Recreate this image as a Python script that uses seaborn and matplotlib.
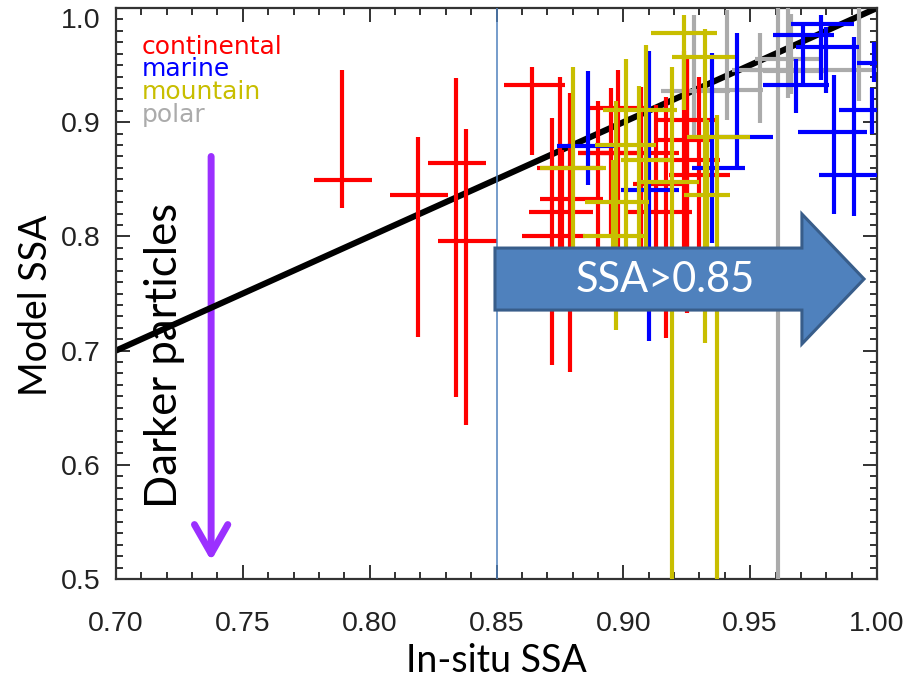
import matplotlib
matplotlib.use("Agg")
import matplotlib.pyplot as plt
from matplotlib.patches import Polygon
from matplotlib.ticker import MultipleLocator, FormatStrFormatter
import numpy as np
import pandas as pd
import seaborn as sns

# ---- data: in-situ SSA (x) and model SSA (y) with their ranges, per site type ----
continental_insitu = [0.789, 0.819, 0.834, 0.838, 0.864, 0.872, 0.879, 0.875, 0.876,
                      0.898, 0.907, 0.917, 0.924, 0.925, 0.925, 0.930, 0.890, 0.895,
                      0.913]
continental_insitu_lo = [0.778, 0.808, 0.823, 0.827, 0.853, 0.860, 0.866, 0.863, 0.867,
                         0.886, 0.891, 0.901, 0.912, 0.914, 0.912, 0.918, 0.882, 0.882,
                         0.904]
continental_insitu_hi = [0.801, 0.831, 0.846, 0.850, 0.877, 0.885, 0.892, 0.888, 0.892,
                         0.911, 0.922, 0.927, 0.935, 0.938, 0.936, 0.942, 0.898, 0.909,
                         0.926]
continental_model = [0.849, 0.836, 0.864, 0.796, 0.933, 0.800, 0.860, 0.821, 0.833,
                     0.912, 0.873, 0.821, 0.884, 0.867, 0.902, 0.854, 0.873, 0.873,
                     0.846]
continental_model_lo = [0.825, 0.712, 0.659, 0.635, 0.871, 0.687, 0.681, 0.750, 0.760,
                        0.770, 0.762, 0.711, 0.744, 0.733, 0.762, 0.779, 0.779, 0.800,
                        0.760]
continental_model_hi = [0.946, 0.887, 0.939, 0.894, 0.948, 0.904, 0.926, 0.940, 0.876,
                        0.946, 0.931, 0.922, 0.962, 0.955, 0.959, 0.940, 0.919, 0.930,
                        0.915]

marine_insitu = [0.886, 0.910, 0.935, 0.945, 0.968, 0.978, 0.980, 0.971, 0.983, 0.991,
                 0.998, 0.999]
marine_insitu_lo = [0.874, 0.899, 0.927, 0.932, 0.955, 0.966, 0.968, 0.959, 0.969, 0.977,
                    0.985, 0.992]
marine_insitu_hi = [0.898, 0.922, 0.948, 0.959, 0.981, 0.991, 0.993, 0.983, 0.996, 1.004,
                    1.011, 1.006]
marine_model = [0.879, 0.841, 0.860, 0.887, 0.933, 0.986, 0.966, 0.976, 0.891, 0.854,
                0.911, 0.952]
marine_model_lo = [0.845, 0.708, 0.794, 0.860, 0.908, 0.937, 0.926, 0.934, 0.820, 0.818,
                   0.890, 0.935]
marine_model_hi = [0.945, 0.962, 0.961, 0.978, 0.955, 0.994, 0.983, 0.985, 0.941, 0.975,
                   0.930, 0.970]

mountain_insitu = [0.880, 0.897, 0.906, 0.896, 0.924, 0.932, 0.937, 0.919, 0.909, 0.933,
                   0.901]
mountain_insitu_lo = [0.867, 0.885, 0.892, 0.884, 0.911, 0.919, 0.925, 0.907, 0.899, 0.924,
                      0.889]
mountain_insitu_hi = [0.893, 0.910, 0.921, 0.909, 0.937, 0.944, 0.950, 0.930, 0.919, 0.942,
                      0.913]
mountain_model = [0.860, 0.830, 0.911, 0.800, 0.978, 0.957, 0.887, 0.848, 0.867, 0.836,
                  0.880]
mountain_model_lo = [0.753, 0.718, 0.744, 0.744, 0.911, 0.707, 0.450, 0.450, 0.762, 0.744,
                     0.790]
mountain_model_hi = [0.948, 0.919, 0.932, 0.867, 0.994, 0.982, 0.906, 0.948, 0.968, 0.902,
                     0.955]

polar_insitu = [0.928, 0.941, 0.954, 0.961, 0.965, 0.966, 0.993]
polar_insitu_lo = [0.915, 0.930, 0.943, 0.950, 0.952, 0.955, 0.978]
polar_insitu_hi = [0.942, 0.955, 0.970, 0.978, 0.978, 0.979, 1.004]
polar_model = [0.927, 0.928, 0.946, 0.946, 0.955, 0.945, 0.946]
polar_model_lo = [0.884, 0.902, 0.899, 0.450, 0.921, 0.925, 0.919]
polar_model_hi = [0.994, 0.998, 0.978, 1.000, 1.000, 0.995, 1.000]

site_types = ["continental", "marine", "mountain", "polar"]
site_colors = ["#FF0000", "#0000FF", "#C8BE00", "#ABABAB"]

one_to_one = [0.70, 1.00]
ssa_threshold = 0.85

# ---- figure ----
sns.set_theme(style="ticks")
plt.rcParams["font.family"] = ["DejaVu Sans"]

fig = plt.figure(figsize=(9.07, 6.82), dpi=100)
ax = fig.add_axes([116 / 907, 103 / 682, 761 / 907, 571 / 682])

groups = {
    "continental": (continental_insitu, continental_insitu_lo, continental_insitu_hi,
                    continental_model, continental_model_lo, continental_model_hi),
    "marine": (marine_insitu, marine_insitu_lo, marine_insitu_hi,
               marine_model, marine_model_lo, marine_model_hi),
    "mountain": (mountain_insitu, mountain_insitu_lo, mountain_insitu_hi,
                 mountain_model, mountain_model_lo, mountain_model_hi),
    "polar": (polar_insitu, polar_insitu_lo, polar_insitu_hi,
              polar_model, polar_model_lo, polar_model_hi),
}

# 1:1 line
diag = pd.DataFrame({"insitu": one_to_one, "model": one_to_one})
sns.lineplot(data=diag, x="insitu", y="model", color="black", lw=4.4, ax=ax,
             zorder=2, solid_capstyle="butt")

draw_order = ["polar", "continental", "marine", "mountain"]
for name in draw_order:
    color = site_colors[site_types.index(name)]
    x, xlo, xhi, y, ylo, yhi = (np.asarray(v, dtype=float) for v in groups[name])
    ax.errorbar(x, y, xerr=[x - xlo, xhi - x], yerr=[y - ylo, yhi - y],
                fmt="none", ecolor=color, elinewidth=3.0, capsize=0, zorder=3)

ax.axvline(ssa_threshold, color="#4F81BD", lw=1.1, zorder=4)

ax.set_xlim(0.70, 1.00)
ax.set_ylim(0.50, 1.00)

ax.xaxis.set_major_locator(MultipleLocator(0.05))
ax.xaxis.set_minor_locator(MultipleLocator(0.01))
ax.yaxis.set_major_locator(MultipleLocator(0.1))
ax.yaxis.set_minor_locator(MultipleLocator(0.01))
ax.xaxis.set_major_formatter(FormatStrFormatter("%.2f"))
ax.yaxis.set_major_formatter(FormatStrFormatter("%.1f"))

ax.tick_params(which="both", direction="in", top=True, right=True,
               colors="#222222", width=1.3)
ax.tick_params(which="major", length=10)
ax.tick_params(which="minor", length=5)
ax.tick_params(axis="x", which="major", pad=23, labelsize=20.5)
ax.tick_params(axis="y", which="major", pad=11, labelsize=20.5)
for lab in ax.get_xticklabels() + ax.get_yticklabels():
    lab.set_family(["Liberation Sans", "DejaVu Sans"])
for sp in ax.spines.values():
    sp.set_linewidth(1.6)
    sp.set_color("#333333")

label_font = ["Lato", "DejaVu Sans"]
ax.set_xlabel("In-situ SSA", fontsize=27, family=label_font, color="black")
ax.set_ylabel("Model SSA", fontsize=27, family=label_font, color="black")
ax.xaxis.set_label_coords(0.5, -0.112)
ax.yaxis.set_label_coords(-0.081, 0.48)

# site-type key
key_y = [0.919, 0.881, 0.841, 0.800]
for name, color, ky in zip(site_types, site_colors, key_y):
    ax.text(0.034, ky, name, color=color, fontsize=18, transform=ax.transAxes,
            ha="left", va="baseline")

# darker-particles arrow and caption
ax.annotate("", xy=(0.7375, 0.516), xytext=(0.7375, 0.870),
            arrowprops=dict(arrowstyle="->,head_length=1.05,head_width=0.6",
                            color="#9B30FF", lw=5, capstyle="round",
                            joinstyle="round", mutation_scale=20,
                            shrinkA=0, shrinkB=0),
            zorder=1)
ax.text(0.7193, 0.696, "Darker particles", rotation=90, ha="center", va="center",
        fontsize=31.5, family=label_font, color="black", zorder=1)

# block arrow for the high-SSA range
arrow_xy = [(0.8494, 0.7898), (0.9704, 0.7898), (0.9704, 0.8196), (0.9949, 0.7627),
            (0.9704, 0.7058), (0.9704, 0.7355), (0.8494, 0.7355)]
ax.add_patch(Polygon(arrow_xy, closed=True, facecolor="#4F81BD", edgecolor="#385D8A",
                     lw=2.2, zorder=6))
ax.text(0.9164, 0.7618, "SSA>0.85", color="white", fontsize=30, family=label_font,
        ha="center", va="center", zorder=7)

# the top y label sits just below the axis corner
fig.canvas.draw()
for tick in ax.yaxis.get_major_ticks():
    if abs(tick.get_loc() - 1.0) < 1e-9:
        tick.label1.set_verticalalignment("top")

fig.savefig("out.png", dpi=100)
